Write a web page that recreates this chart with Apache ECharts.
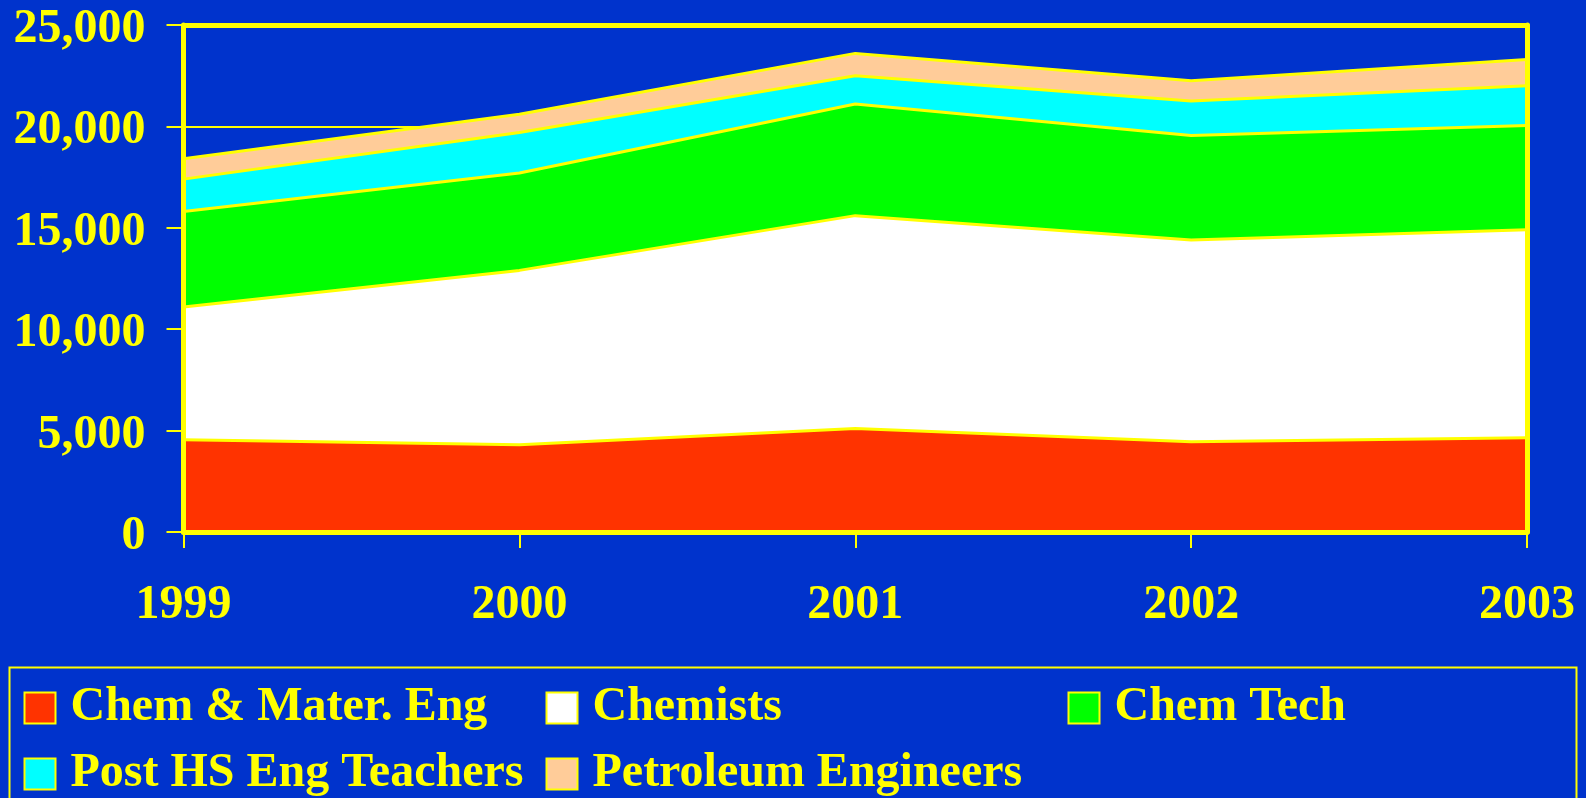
<!DOCTYPE html>
<html>
<head>
<meta charset="utf-8">
<title>Chemistry workforce 1999-2003</title>
<script src="https://cdn.jsdelivr.net/npm/echarts@6/dist/echarts.min.js"></script>
<style>
  html, body { margin: 0; padding: 0; background: #0033CC; }
  #main { width: 1586px; height: 798px; }
</style>
</head>
<body>
<div id="main"></div>
<script>
// data
var years = ['1999', '2000', '2001', '2002', '2003'];
var chemMaterEng = [4550, 4300, 5100, 4450, 4650];
var chemists = [6550, 8600, 10500, 9950, 10250];
var chemTech = [4700, 4800, 5500, 5150, 5150];
var postHsTeachers = [1600, 2000, 1400, 1700, 1950];
var petroleumEng = [1000, 900, 1100, 1000, 1300];
var yTicks = [0, 5000, 10000, 15000, 20000, 25000];

var seriesNames = ['Chem & Mater. Eng', 'Chemists', 'Chem Tech', 'Post HS Eng Teachers', 'Petroleum Engineers'];
var seriesData = [chemMaterEng, chemists, chemTech, postHsTeachers, petroleumEng];
var fills = ['#FF3300', '#FFFFFF', '#00FF00', '#00FFFF', '#FFCC99'];

var yellow = '#FFFF00';
var font = 'Liberation Serif, Times New Roman, serif';

// legend laid out as a 3 column grid
var legendLeft = [23.5, 545.5, 1067.5, 23.5, 545.5];
var legendTop = [684, 684, 684, 750, 750];

var series = seriesNames.map(function (name, i) {
  return {
    name: name,
    type: 'line',
    stack: 'total',
    data: seriesData[i],
    symbol: 'none',
    itemStyle: { color: fills[i] },
    lineStyle: { color: yellow, width: 3 },
    areaStyle: { color: fills[i], opacity: 1 },
    emphasis: { disabled: true }
  };
});

var legends = seriesNames.map(function (name, i) {
  return {
    data: [name],
    left: legendLeft[i],
    top: legendTop[i],
    padding: 0,
    icon: 'rect',
    itemWidth: 31,
    itemHeight: 31,
    itemStyle: { borderColor: yellow, borderWidth: 2 },
    selectedMode: false,
    textStyle: {
      color: yellow,
      fontSize: 48,
      fontWeight: 'bold',
      fontFamily: font,
      padding: [0, 0, 0, 10]
    }
  };
});

var option = {
  backgroundColor: '#0033CC',
  animation: false,
  grid: { left: 183.5, right: 59, top: 25, bottom: 266 },
  legend: legends,
  xAxis: [
    {
      type: 'category',
      data: years,
      boundaryGap: false,
      position: 'bottom',
      z: 3,
      axisLine: { show: true, onZero: false, lineStyle: { color: yellow, width: 5 } },
      axisTick: { show: true, length: 16, lineStyle: { color: yellow, width: 2 } },
      axisLabel: { color: yellow, fontSize: 48, fontWeight: 'bold', fontFamily: font, margin: 50 },
      splitLine: { show: false }
    },
    {
      type: 'category',
      data: years,
      boundaryGap: false,
      position: 'top',
      z: 3,
      axisLine: { show: true, onZero: false, lineStyle: { color: yellow, width: 5 } },
      axisTick: { show: false },
      axisLabel: { show: false },
      splitLine: { show: false }
    }
  ],
  yAxis: [
    {
      // gridlines only, stays under the areas
      type: 'value',
      min: yTicks[0],
      max: yTicks[yTicks.length - 1],
      interval: 5000,
      z: 0,
      axisLine: { show: false },
      axisTick: { show: false },
      axisLabel: { show: false },
      splitLine: { show: true, lineStyle: { color: yellow, width: 2 } }
    },
    {
      type: 'value',
      min: yTicks[0],
      max: yTicks[yTicks.length - 1],
      interval: 5000,
      position: 'left',
      z: 3,
      axisLine: { show: true, onZero: false, lineStyle: { color: yellow, width: 5 } },
      axisTick: { show: true, length: 17, lineStyle: { color: yellow, width: 2 } },
      axisLabel: {
        margin: 38,
        formatter: function (v) { return '{n|' + v.toLocaleString('en-US') + '}'; },
        rich: {
          n: {
            color: yellow,
            fontSize: 48,
            fontWeight: 'bold',
            fontFamily: font,
            padding: [9, 0, 0, 0]
          }
        }
      },
      splitLine: { show: false }
    },
    {
      type: 'value',
      min: yTicks[0],
      max: yTicks[yTicks.length - 1],
      interval: 5000,
      position: 'right',
      z: 3,
      axisLine: { show: true, onZero: false, lineStyle: { color: yellow, width: 5 } },
      axisTick: { show: false },
      axisLabel: { show: false },
      splitLine: { show: false }
    }
  ],
  graphic: [
    {
      // legend frame, runs off the bottom like the original
      type: 'rect',
      left: 7,
      top: 665,
      shape: { width: 1567, height: 160 },
      style: { fill: 'none', stroke: yellow, lineWidth: 2 },
      silent: true
    }
  ],
  series: series
};

var chartDom = document.getElementById('main');
var myChart = echarts.init(chartDom);
myChart.setOption(option);
</script>
</body>
</html>
